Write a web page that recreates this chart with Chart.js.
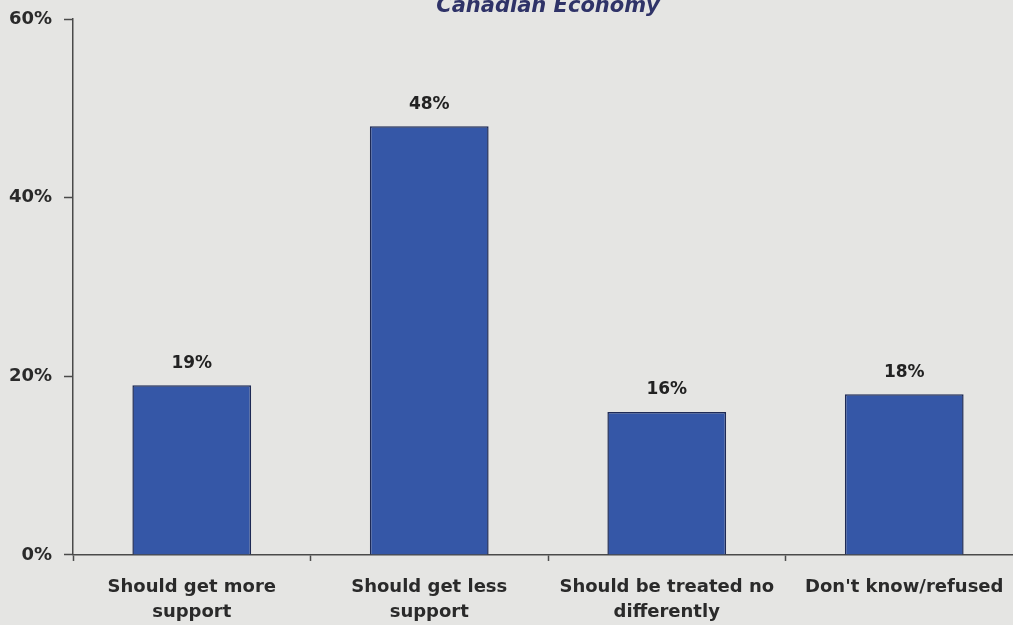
<!DOCTYPE html>
<html>
<head>
<meta charset="utf-8">
<script src="https://cdn.jsdelivr.net/npm/chart.js@4.4.0/dist/chart.umd.min.js"></script>
<style>
  html, body { margin: 0; padding: 0; background: #e5e5e3; overflow: hidden; }
  #wrap { position: absolute; left: 0; top: -9px; width: 1030px; height: 648px; }
</style>
</head>
<body>
<div id="wrap"><canvas id="chart"></canvas></div>
<script>
// survey answers and their shares (%)
const categories = [
    ['Should get more', 'support'],
    ['Should get less', 'support'],
    ['Should be treated no', 'differently'],
    ["Don't know/refused"]
];
const shares = [19, 48, 16, 18];
const yTicks = [0, 20, 40, 60];
const chartTitle = 'Canadian Economy';

const FONT = "'DejaVu Sans', sans-serif";

// title centred over the plot area rather than the whole canvas
const plotTitle = {
    id: 'plotTitle',
    afterDraw(chart) {
        const { ctx, chartArea } = chart;
        ctx.save();
        ctx.font = `italic bold 21px ${FONT}`;
        ctx.fillStyle = '#2f3368';
        ctx.textAlign = 'center';
        ctx.textBaseline = 'middle';
        ctx.fillText(chartTitle, (chartArea.left + chartArea.right) / 2, 16);
        ctx.restore();
    }
};

// writes the percentage above each bar
const barValues = {
    id: 'barValues',
    afterDatasetsDraw(chart) {
        const ctx = chart.ctx;
        const meta = chart.getDatasetMeta(0);
        ctx.save();
        ctx.font = `bold 17px ${FONT}`;
        ctx.fillStyle = '#222';
        ctx.textAlign = 'center';
        ctx.textBaseline = 'middle';
        meta.data.forEach((bar, i) => {
            ctx.fillText(shares[i] + '%', bar.x, bar.y - 22);
        });
        ctx.restore();
    }
};

new Chart(document.getElementById('chart').getContext('2d'), {
    type: 'bar',
    data: {
        labels: categories,
        datasets: [{
            data: shares,
            backgroundColor: '#3557a7',
            borderColor: '#1e2a55',
            borderWidth: 1.5,
            barPercentage: 0.5,
            categoryPercentage: 1.0
        }]
    },
    plugins: [barValues, plotTitle],
    options: {
        responsive: true,
        maintainAspectRatio: false,
        animation: false,
        layout: { padding: { left: 8, right: 7, top: 28, bottom: 0 } },
        plugins: {
            legend: { display: false },
            tooltip: { enabled: false },
            title: { display: false }
        },
        scales: {
            x: {
                offset: true,
                // labels sit in the middle of each band, no side padding needed
                afterFit(scale) {
                    scale.paddingLeft = 0;
                    scale.paddingRight = 0;
                },
                border: { display: true, color: '#4a4a4a', width: 1.5 },
                grid: {
                    offset: true,
                    drawOnChartArea: false,
                    drawTicks: true,
                    tickLength: 6,
                    tickColor: '#4a4a4a',
                    tickWidth: 1.5
                },
                ticks: {
                    color: '#2a2a2a',
                    padding: 14,
                    maxRotation: 0,
                    autoSkip: false,
                    font: { family: FONT, size: 18, weight: 'bold', lineHeight: 1.39 }
                }
            },
            y: {
                min: 0,
                max: 60,
                afterBuildTicks(scale) {
                    scale.ticks = yTicks.map(v => ({ value: v }));
                },
                afterFit(scale) {
                    scale.width = 65;
                },
                border: { display: true, color: '#4a4a4a', width: 1.5 },
                grid: {
                    drawOnChartArea: false,
                    drawTicks: true,
                    tickLength: 9,
                    tickColor: '#4a4a4a',
                    tickWidth: 1.5
                },
                ticks: {
                    color: '#2a2a2a',
                    padding: 12,
                    callback: v => v + '%',
                    font: { family: FONT, size: 18, weight: 'bold' }
                }
            }
        }
    }
});
</script>
</body>
</html>
